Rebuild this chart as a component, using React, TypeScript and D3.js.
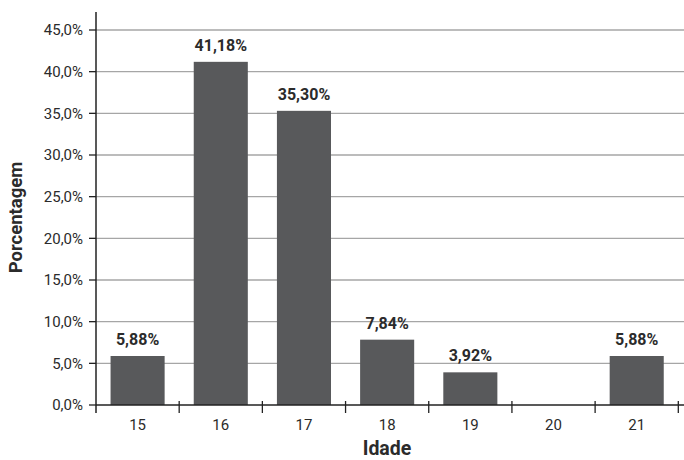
import React from "react";
import * as d3 from "d3";

const categories = ["15", "16", "17", "18", "19", "20", "21"];
const values = [5.88, 41.18, 35.3, 7.84, 3.92, 0, 5.88];
const valueLabels = ["5,88%", "41,18%", "35,30%", "7,84%", "3,92%", "", "5,88%"];
const yTicks = [0, 5, 10, 15, 20, 25, 30, 35, 40, 45];

const W = 684;
const H = 460;
const left = 96;
const right = 678.3;
const top = 30;
const bottom = 405;

export default function App() {
  const x = d3.scaleBand<string>().domain(categories).range([left, right]).paddingInner(0.35).paddingOuter(0.175);
  const xEdges = d3.scaleBand<string>().domain(categories).range([left, right]).padding(0);
  const y = d3.scaleLinear().domain([0, 45]).range([bottom, top]);
  const fmt = (v: number) => v.toFixed(1).replace(".", ",") + "%";
  const font = "Roboto, 'Noto Sans', sans-serif";

  return (
    <svg width={W} height={H} style={{ position: "absolute", left: 0, top: 0, background: "#fff" }} fontFamily={font}>
      {yTicks.map((t) => (
        <g key={t}>
          {t > 0 && <line x1={left} x2={684} y1={y(t)} y2={y(t)} stroke="#a6a6a6" strokeWidth={1.3} />}
          <line x1={89} x2={left} y1={y(t)} y2={y(t)} stroke="#222" strokeWidth={1.3} />
          <text x={83} y={y(t)} dy="0.36em" textAnchor="end" fontSize={15} fill="#2b2b2b">
            {fmt(t)}
          </text>
        </g>
      ))}
      {categories.map((c, i) => (
        <g key={c}>
          <rect x={x(c)} y={y(values[i])} width={x.bandwidth()} height={bottom - y(values[i])} fill="#58595b" />
          {valueLabels[i] && (
            <text x={x(c)! + x.bandwidth() / 2} y={y(values[i]) - 11} textAnchor="middle" fontSize={16} fontWeight="bold" fill="#2b2b2b">
              {valueLabels[i]}
            </text>
          )}
          <text x={xEdges(c)! + xEdges.bandwidth() / 2} y={430} textAnchor="middle" fontSize={15} fill="#2b2b2b">
            {c}
          </text>
          <line x1={xEdges(c)! + xEdges.bandwidth()} x2={xEdges(c)! + xEdges.bandwidth()} y1={401} y2={413} stroke="#222" strokeWidth={1.3} />
        </g>
      ))}
      <line x1={left} x2={684} y1={bottom} y2={bottom} stroke="#222" strokeWidth={1.5} />
      <line x1={left} x2={left} y1={12} y2={413} stroke="#222" strokeWidth={1.5} />
      <text x={387} y={455} textAnchor="middle" fontSize={19.5} fontWeight="bold" fill="#2b2b2b">
        Idade
      </text>
      <text transform={`translate(22,217.5) rotate(-90)`} textAnchor="middle" fontSize={18.5} fontWeight="bold" fill="#2b2b2b">
        Porcentagem
      </text>
    </svg>
  );
}
